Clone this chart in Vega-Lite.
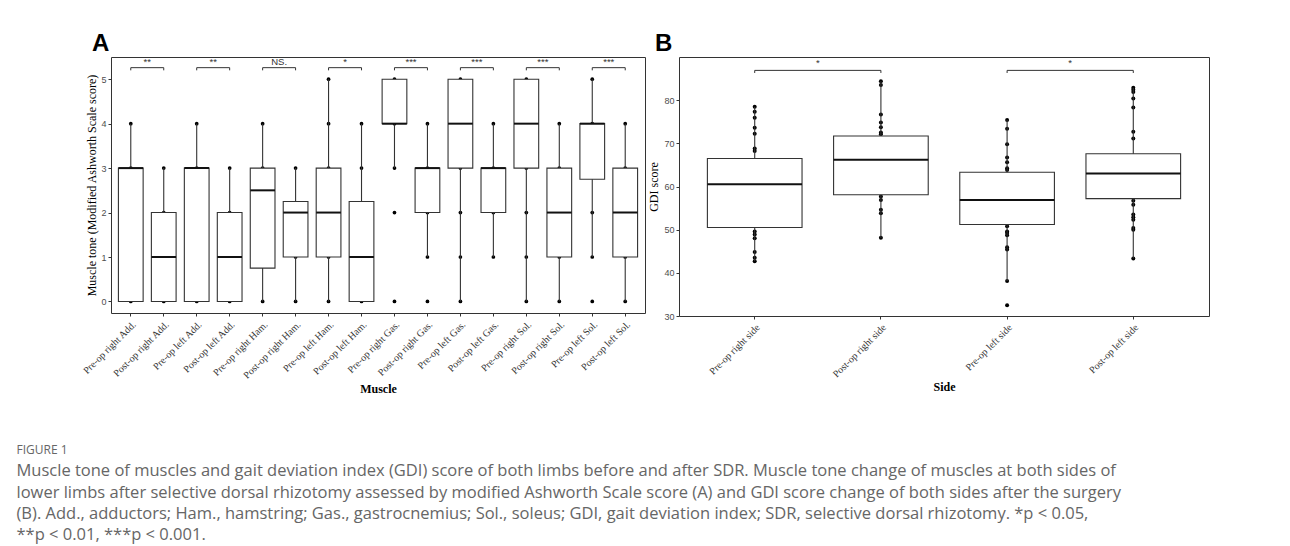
{
  "$schema": "https://vega.github.io/schema/vega-lite/v6.json",
  "autosize": {"type": "pad"},
  "padding": {"left": 16, "top": 31, "right": 0, "bottom": 0},
  "background": "white",
  "config": {"view": {"stroke": null}, "font": "Liberation Sans"},
  "datasets": {
    "boxA": [
      {"muscle": "Pre-op right Add.", "lo": 0, "q1": 0, "med": 3, "q3": 3, "hi": 4},
      {"muscle": "Post-op right Add.", "lo": 0, "q1": 0, "med": 1, "q3": 2, "hi": 3},
      {"muscle": "Pre-op left Add.", "lo": 0, "q1": 0, "med": 3, "q3": 3, "hi": 4},
      {"muscle": "Post-op left Add.", "lo": 0, "q1": 0, "med": 1, "q3": 2, "hi": 3},
      {"muscle": "Pre-op right Ham.", "lo": 0, "q1": 0.75, "med": 2.5, "q3": 3, "hi": 4},
      {"muscle": "Post-op right Ham.", "lo": 0, "q1": 1, "med": 2, "q3": 2.25, "hi": 3},
      {"muscle": "Pre-op left Ham.", "lo": 0, "q1": 1, "med": 2, "q3": 3, "hi": 5},
      {"muscle": "Post-op left Ham.", "lo": 0, "q1": 0, "med": 1, "q3": 2.25, "hi": 4},
      {"muscle": "Pre-op right Gas.", "lo": 3, "q1": 4, "med": 4, "q3": 5, "hi": 5},
      {"muscle": "Post-op right Gas.", "lo": 1, "q1": 2, "med": 3, "q3": 3, "hi": 4},
      {"muscle": "Pre-op left Gas.", "lo": 0, "q1": 3, "med": 4, "q3": 5, "hi": 5},
      {"muscle": "Post-op left Gas.", "lo": 1, "q1": 2, "med": 3, "q3": 3, "hi": 4},
      {"muscle": "Pre-op right Sol.", "lo": 0, "q1": 3, "med": 4, "q3": 5, "hi": 5},
      {"muscle": "Post-op right Sol.", "lo": 0, "q1": 1, "med": 2, "q3": 3, "hi": 4},
      {"muscle": "Pre-op left Sol.", "lo": 1, "q1": 2.75, "med": 4, "q3": 4, "hi": 5},
      {"muscle": "Post-op left Sol.", "lo": 0, "q1": 1, "med": 2, "q3": 3, "hi": 4}
    ],
    "ptsA": [
      {"muscle": "Pre-op right Add.", "value": 0}, {"muscle": "Pre-op right Add.", "value": 3}, {"muscle": "Pre-op right Add.", "value": 4},
      {"muscle": "Post-op right Add.", "value": 0}, {"muscle": "Post-op right Add.", "value": 1}, {"muscle": "Post-op right Add.", "value": 2}, {"muscle": "Post-op right Add.", "value": 3},
      {"muscle": "Pre-op left Add.", "value": 0}, {"muscle": "Pre-op left Add.", "value": 3}, {"muscle": "Pre-op left Add.", "value": 4},
      {"muscle": "Post-op left Add.", "value": 0}, {"muscle": "Post-op left Add.", "value": 1}, {"muscle": "Post-op left Add.", "value": 2}, {"muscle": "Post-op left Add.", "value": 3},
      {"muscle": "Pre-op right Ham.", "value": 0}, {"muscle": "Pre-op right Ham.", "value": 2}, {"muscle": "Pre-op right Ham.", "value": 3}, {"muscle": "Pre-op right Ham.", "value": 4},
      {"muscle": "Post-op right Ham.", "value": 0}, {"muscle": "Post-op right Ham.", "value": 1}, {"muscle": "Post-op right Ham.", "value": 2}, {"muscle": "Post-op right Ham.", "value": 3},
      {"muscle": "Pre-op left Ham.", "value": 0}, {"muscle": "Pre-op left Ham.", "value": 1}, {"muscle": "Pre-op left Ham.", "value": 2}, {"muscle": "Pre-op left Ham.", "value": 3}, {"muscle": "Pre-op left Ham.", "value": 4}, {"muscle": "Pre-op left Ham.", "value": 5},
      {"muscle": "Post-op left Ham.", "value": 0}, {"muscle": "Post-op left Ham.", "value": 1}, {"muscle": "Post-op left Ham.", "value": 2}, {"muscle": "Post-op left Ham.", "value": 3}, {"muscle": "Post-op left Ham.", "value": 4},
      {"muscle": "Pre-op right Gas.", "value": 0}, {"muscle": "Pre-op right Gas.", "value": 2}, {"muscle": "Pre-op right Gas.", "value": 3}, {"muscle": "Pre-op right Gas.", "value": 4}, {"muscle": "Pre-op right Gas.", "value": 5},
      {"muscle": "Post-op right Gas.", "value": 0}, {"muscle": "Post-op right Gas.", "value": 1}, {"muscle": "Post-op right Gas.", "value": 2}, {"muscle": "Post-op right Gas.", "value": 3}, {"muscle": "Post-op right Gas.", "value": 4},
      {"muscle": "Pre-op left Gas.", "value": 0}, {"muscle": "Pre-op left Gas.", "value": 1}, {"muscle": "Pre-op left Gas.", "value": 2}, {"muscle": "Pre-op left Gas.", "value": 3}, {"muscle": "Pre-op left Gas.", "value": 4}, {"muscle": "Pre-op left Gas.", "value": 5},
      {"muscle": "Post-op left Gas.", "value": 1}, {"muscle": "Post-op left Gas.", "value": 2}, {"muscle": "Post-op left Gas.", "value": 3}, {"muscle": "Post-op left Gas.", "value": 4},
      {"muscle": "Pre-op right Sol.", "value": 0}, {"muscle": "Pre-op right Sol.", "value": 1}, {"muscle": "Pre-op right Sol.", "value": 2}, {"muscle": "Pre-op right Sol.", "value": 3}, {"muscle": "Pre-op right Sol.", "value": 4}, {"muscle": "Pre-op right Sol.", "value": 5},
      {"muscle": "Post-op right Sol.", "value": 0}, {"muscle": "Post-op right Sol.", "value": 1}, {"muscle": "Post-op right Sol.", "value": 2}, {"muscle": "Post-op right Sol.", "value": 3}, {"muscle": "Post-op right Sol.", "value": 4},
      {"muscle": "Pre-op left Sol.", "value": 0}, {"muscle": "Pre-op left Sol.", "value": 1}, {"muscle": "Pre-op left Sol.", "value": 2}, {"muscle": "Pre-op left Sol.", "value": 3}, {"muscle": "Pre-op left Sol.", "value": 4}, {"muscle": "Pre-op left Sol.", "value": 5},
      {"muscle": "Post-op left Sol.", "value": 0}, {"muscle": "Post-op left Sol.", "value": 1}, {"muscle": "Post-op left Sol.", "value": 2}, {"muscle": "Post-op left Sol.", "value": 3}, {"muscle": "Post-op left Sol.", "value": 4}
    ],
    "sigA": [
      {"muscle": "Pre-op right Add.", "muscle2": "Post-op right Add.", "yb": 5.26, "tip": 5.2, "yl": 5.39, "label": "**"},
      {"muscle": "Pre-op left Add.", "muscle2": "Post-op left Add.", "yb": 5.26, "tip": 5.2, "yl": 5.39, "label": "**"},
      {"muscle": "Pre-op right Ham.", "muscle2": "Post-op right Ham.", "yb": 5.26, "tip": 5.2, "yl": 5.39, "label": "NS."},
      {"muscle": "Pre-op left Ham.", "muscle2": "Post-op left Ham.", "yb": 5.26, "tip": 5.2, "yl": 5.39, "label": "*"},
      {"muscle": "Pre-op right Gas.", "muscle2": "Post-op right Gas.", "yb": 5.26, "tip": 5.2, "yl": 5.39, "label": "***"},
      {"muscle": "Pre-op left Gas.", "muscle2": "Post-op left Gas.", "yb": 5.26, "tip": 5.2, "yl": 5.39, "label": "***"},
      {"muscle": "Pre-op right Sol.", "muscle2": "Post-op right Sol.", "yb": 5.26, "tip": 5.2, "yl": 5.39, "label": "***"},
      {"muscle": "Pre-op left Sol.", "muscle2": "Post-op left Sol.", "yb": 5.26, "tip": 5.2, "yl": 5.39, "label": "***"}
    ],
    "boxB": [
      {"side": "Pre-op right side", "lo": 42.7, "q1": 50.5, "med": 60.5, "q3": 66.5, "hi": 78.5},
      {"side": "Post-op right side", "lo": 48.1, "q1": 58.1, "med": 66.2, "q3": 71.7, "hi": 84.4},
      {"side": "Pre-op left side", "lo": 38.1, "q1": 51.2, "med": 56.9, "q3": 63.3, "hi": 75.4},
      {"side": "Post-op left side", "lo": 43.3, "q1": 57.2, "med": 63.0, "q3": 67.6, "hi": 82.9}
    ],
    "ptsB": [
      {"side": "Pre-op right side", "value": 78.5}, {"side": "Pre-op right side", "value": 77.3}, {"side": "Pre-op right side", "value": 75.9}, {"side": "Pre-op right side", "value": 73.6}, {"side": "Pre-op right side", "value": 72.2}, {"side": "Pre-op right side", "value": 68.8}, {"side": "Pre-op right side", "value": 68.2},
      {"side": "Pre-op right side", "value": 49.6}, {"side": "Pre-op right side", "value": 48.9}, {"side": "Pre-op right side", "value": 48.0}, {"side": "Pre-op right side", "value": 44.8}, {"side": "Pre-op right side", "value": 43.5}, {"side": "Pre-op right side", "value": 42.7},
      {"side": "Post-op right side", "value": 84.4}, {"side": "Post-op right side", "value": 83.5}, {"side": "Post-op right side", "value": 76.7}, {"side": "Post-op right side", "value": 74.8}, {"side": "Post-op right side", "value": 73.7}, {"side": "Post-op right side", "value": 72.5}, {"side": "Post-op right side", "value": 72.1},
      {"side": "Post-op right side", "value": 57.7}, {"side": "Post-op right side", "value": 56.9}, {"side": "Post-op right side", "value": 54.6}, {"side": "Post-op right side", "value": 53.8}, {"side": "Post-op right side", "value": 48.1},
      {"side": "Pre-op left side", "value": 75.4}, {"side": "Pre-op left side", "value": 73.4}, {"side": "Pre-op left side", "value": 69.8}, {"side": "Pre-op left side", "value": 66.7}, {"side": "Pre-op left side", "value": 65.6}, {"side": "Pre-op left side", "value": 64.2}, {"side": "Pre-op left side", "value": 63.8},
      {"side": "Pre-op left side", "value": 50.8}, {"side": "Pre-op left side", "value": 49.6}, {"side": "Pre-op left side", "value": 49.2}, {"side": "Pre-op left side", "value": 48.7}, {"side": "Pre-op left side", "value": 45.9}, {"side": "Pre-op left side", "value": 45.4}, {"side": "Pre-op left side", "value": 38.1}, {"side": "Pre-op left side", "value": 32.5},
      {"side": "Post-op left side", "value": 82.9}, {"side": "Post-op left side", "value": 82.4}, {"side": "Post-op left side", "value": 81.9}, {"side": "Post-op left side", "value": 80.4}, {"side": "Post-op left side", "value": 78.3}, {"side": "Post-op left side", "value": 72.7}, {"side": "Post-op left side", "value": 71.1},
      {"side": "Post-op left side", "value": 56.7}, {"side": "Post-op left side", "value": 55.8}, {"side": "Post-op left side", "value": 53.5}, {"side": "Post-op left side", "value": 52.9}, {"side": "Post-op left side", "value": 52.3}, {"side": "Post-op left side", "value": 50.4}, {"side": "Post-op left side", "value": 50.0}, {"side": "Post-op left side", "value": 43.3}
    ],
    "sigB": [
      {"side": "Pre-op right side", "side2": "Post-op right side", "yb": 86.9, "tip": 86.3, "yl": 88.6, "label": "*"},
      {"side": "Pre-op left side", "side2": "Post-op left side", "yb": 86.9, "tip": 86.3, "yl": 88.6, "label": "*"}
    ],
    "caption": [
      {"k": 0, "part": "head", "line": "FIGURE 1"},
      {"k": 1, "part": "body", "line": "Muscle tone of muscles and gait deviation index (GDI) score of both limbs before and after SDR. Muscle tone change of muscles at both sides of"},
      {"k": 2, "part": "body", "line": "lower limbs after selective dorsal rhizotomy assessed by modified Ashworth Scale score (A) and GDI score change of both sides after the surgery"},
      {"k": 3, "part": "body", "line": "(B). Add., adductors; Ham., hamstring; Gas., gastrocnemius; Sol., soleus; GDI, gait deviation index; SDR, selective dorsal rhizotomy. *p < 0.05,"},
      {"k": 4, "part": "body", "line": "**p < 0.01, ***p < 0.001."}
    ]
  },
  "bounds": "flush",
  "columns": 2,
  "spacing": {"row": 134, "column": 34},
  "concat": [
    {
      "width": 534,
      "height": 256,
      "view": {"stroke": "#333", "strokeWidth": 1},
      "title": {"text": "A", "anchor": "start", "frame": "group", "dx": -19, "offset": -18, "baseline": "alphabetic", "font": "Liberation Sans", "fontSize": 24, "fontWeight": "bold", "color": "#000"},
      "layer": [
        {
          "data": {"name": "ptsA"},
          "mark": {"type": "circle", "color": "#000", "opacity": 1, "size": 14},
          "encoding": {
            "x": {"field": "muscle", "type": "nominal",
              "scale": {"type": "band", "paddingInner": 0, "paddingOuter": 0.1, "domain": ["Pre-op right Add.", "Post-op right Add.", "Pre-op left Add.", "Post-op left Add.", "Pre-op right Ham.", "Post-op right Ham.", "Pre-op left Ham.", "Post-op left Ham.", "Pre-op right Gas.", "Post-op right Gas.", "Pre-op left Gas.", "Post-op left Gas.", "Pre-op right Sol.", "Post-op right Sol.", "Pre-op left Sol.", "Post-op left Sol."]},
              "axis": {"title": "Muscle", "titleFont": "Liberation Serif", "titleFontSize": 12, "titleFontWeight": "bold", "titleColor": "#000", "titlePadding": 3, "labelFont": "Liberation Serif", "labelFontSize": 10, "labelColor": "#333", "labelAngle": -45, "labelAlign": "right", "labelBaseline": "top", "labelPadding": 3, "tickColor": "#333", "tickSize": 3, "domain": false, "grid": false, "bandPosition": 0.5}},
            "y": {"field": "value", "type": "quantitative",
              "scale": {"domain": [-0.26, 5.5], "nice": false, "zero": false},
              "axis": {"title": "Muscle tone (Modified Ashworth Scale score)", "titleFont": "Liberation Serif", "titleFontSize": 12, "titleFontWeight": "normal", "titleColor": "#000", "titlePadding": 2, "labelFont": "Liberation Sans", "labelFontSize": 9, "labelColor": "#4d4d4d", "labelPadding": 2, "tickColor": "#333", "tickSize": 3, "domain": false, "grid": false, "values": [0, 1, 2, 3, 4, 5]}}
          }
        },
        {
          "data": {"name": "boxA"},
          "mark": {"type": "rule", "color": "#333", "strokeWidth": 1.1},
          "encoding": {"x": {"field": "muscle", "type": "nominal"}, "y": {"field": "lo", "type": "quantitative"}, "y2": {"field": "hi"}}
        },
        {
          "data": {"name": "boxA"},
          "mark": {"type": "bar", "fill": "white", "stroke": "#333", "strokeWidth": 1.1, "width": {"band": 0.75}},
          "encoding": {"x": {"field": "muscle", "type": "nominal"}, "y": {"field": "q1", "type": "quantitative"}, "y2": {"field": "q3"}}
        },
        {
          "data": {"name": "boxA"},
          "mark": {"type": "tick", "color": "#111", "thickness": 2, "size": 24.7, "opacity": 1},
          "encoding": {"x": {"field": "muscle", "type": "nominal"}, "y": {"field": "med", "type": "quantitative"}}
        },
        {
          "data": {"name": "sigA"},
          "mark": {"type": "rule", "color": "#333", "strokeWidth": 1},
          "encoding": {"x": {"field": "muscle", "type": "nominal"}, "x2": {"field": "muscle2"}, "y": {"field": "yb", "type": "quantitative"}}
        },
        {
          "data": {"name": "sigA"},
          "mark": {"type": "rule", "color": "#333", "strokeWidth": 1},
          "encoding": {"x": {"field": "muscle", "type": "nominal"}, "y": {"field": "yb", "type": "quantitative"}, "y2": {"field": "tip"}}
        },
        {
          "data": {"name": "sigA"},
          "mark": {"type": "rule", "color": "#333", "strokeWidth": 1},
          "encoding": {"x": {"field": "muscle2", "type": "nominal"}, "y": {"field": "yb", "type": "quantitative"}, "y2": {"field": "tip"}}
        },
        {
          "data": {"name": "sigA"},
          "mark": {"type": "text", "font": "Liberation Sans", "fontSize": 9.5, "color": "#333", "align": "center", "baseline": "middle", "dx": 16.5},
          "encoding": {"x": {"field": "muscle", "type": "nominal"}, "y": {"field": "yl", "type": "quantitative"}, "text": {"field": "label"}}
        }
      ]
    },
    {
      "width": 530,
      "height": 259,
      "view": {"stroke": "#333", "strokeWidth": 1},
      "title": {"text": "B", "anchor": "start", "frame": "group", "dx": -24, "offset": -18, "baseline": "alphabetic", "font": "Liberation Sans", "fontSize": 24, "fontWeight": "bold", "color": "#000"},
      "layer": [
        {
          "data": {"name": "ptsB"},
          "mark": {"type": "circle", "color": "#000", "opacity": 1, "size": 16},
          "encoding": {
            "x": {"field": "side", "type": "nominal",
              "scale": {"type": "band", "paddingInner": 0, "paddingOuter": 0.1, "domain": ["Pre-op right side", "Post-op right side", "Pre-op left side", "Post-op left side"]},
              "axis": {"title": "Side", "titleFont": "Liberation Serif", "titleFontSize": 12, "titleFontWeight": "bold", "titleColor": "#000", "titlePadding": 3, "labelFont": "Liberation Serif", "labelFontSize": 10, "labelColor": "#333", "labelAngle": -45, "labelAlign": "right", "labelBaseline": "top", "labelPadding": 3, "tickColor": "#333", "tickSize": 3, "domain": false, "grid": false, "bandPosition": 0.5}},
            "y": {"field": "value", "type": "quantitative",
              "scale": {"domain": [30, 90], "nice": false, "zero": false},
              "axis": {"title": "GDI score", "titleFont": "Liberation Serif", "titleFontSize": 12, "titleFontWeight": "normal", "titleColor": "#000", "titlePadding": 3, "labelFont": "Liberation Sans", "labelFontSize": 9, "labelColor": "#4d4d4d", "labelPadding": 2, "tickColor": "#333", "tickSize": 3, "domain": false, "grid": false, "values": [30, 40, 50, 60, 70, 80]}}
          }
        },
        {
          "data": {"name": "boxB"},
          "mark": {"type": "rule", "color": "#333", "strokeWidth": 1.1},
          "encoding": {"x": {"field": "side", "type": "nominal"}, "y": {"field": "lo", "type": "quantitative"}, "y2": {"field": "hi"}}
        },
        {
          "data": {"name": "boxB"},
          "mark": {"type": "bar", "fill": "white", "stroke": "#333", "strokeWidth": 1.1, "width": {"band": 0.75}},
          "encoding": {"x": {"field": "side", "type": "nominal"}, "y": {"field": "q1", "type": "quantitative"}, "y2": {"field": "q3"}}
        },
        {
          "data": {"name": "boxB"},
          "mark": {"type": "tick", "color": "#111", "thickness": 2, "size": 94.6, "opacity": 1},
          "encoding": {"x": {"field": "side", "type": "nominal"}, "y": {"field": "med", "type": "quantitative"}}
        },
        {
          "data": {"name": "sigB"},
          "mark": {"type": "rule", "color": "#333", "strokeWidth": 1},
          "encoding": {"x": {"field": "side", "type": "nominal"}, "x2": {"field": "side2"}, "y": {"field": "yb", "type": "quantitative"}}
        },
        {
          "data": {"name": "sigB"},
          "mark": {"type": "rule", "color": "#333", "strokeWidth": 1},
          "encoding": {"x": {"field": "side", "type": "nominal"}, "y": {"field": "yb", "type": "quantitative"}, "y2": {"field": "tip"}}
        },
        {
          "data": {"name": "sigB"},
          "mark": {"type": "rule", "color": "#333", "strokeWidth": 1},
          "encoding": {"x": {"field": "side2", "type": "nominal"}, "y": {"field": "yb", "type": "quantitative"}, "y2": {"field": "tip"}}
        },
        {
          "data": {"name": "sigB"},
          "mark": {"type": "text", "font": "Liberation Sans", "fontSize": 9.5, "color": "#333", "align": "center", "baseline": "middle", "dx": 63.1},
          "encoding": {"x": {"field": "side", "type": "nominal"}, "y": {"field": "yl", "type": "quantitative"}, "text": {"field": "label"}}
        }
      ]
    },
    {
      "width": 1,
      "height": 85,
      "data": {"name": "caption"},
      "layer": [
        {
          "transform": [{"filter": "datum.part == 'head'"}],
          "mark": {"type": "text", "align": "left", "baseline": "middle", "dx": -95, "font": "Open Sans", "fontSize": 12, "color": "#666"},
          "encoding": {"y": {"field": "k", "type": "ordinal", "scale": {"type": "point", "padding": 0, "domain": [0, 1, 2, 3, 4]}, "axis": null}, "text": {"field": "line"}}
        },
        {
          "transform": [{"filter": "datum.part == 'body'"}],
          "mark": {"type": "text", "align": "left", "baseline": "middle", "dx": -95, "font": "Open Sans", "fontSize": 16.5, "color": "#666"},
          "encoding": {"y": {"field": "k", "type": "ordinal", "axis": null}, "text": {"field": "line"}}
        }
      ]
    }
  ]
}
